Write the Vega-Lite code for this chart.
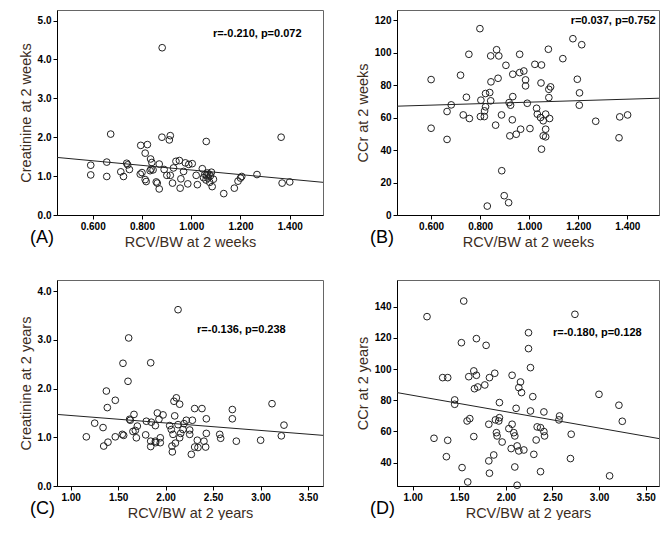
{
  "$schema": "https://vega.github.io/schema/vega-lite/v6.json",
  "background": "white",
  "padding": {"left": 17, "top": 9, "right": 5, "bottom": 0},
  "config": {
    "view": {"stroke": "#666666", "strokeWidth": 1},
    "font": "Liberation Sans",
    "axis": {
      "labelFont": "Liberation Sans", "labelFontWeight": "bold", "labelFontSize": 10, "labelColor": "#000000", "labelOverlap": false,
      "titleFont": "Liberation Sans", "titleFontWeight": "normal", "titleFontSize": 14.5, "titleColor": "#3c2d1e",
      "grid": false, "domainColor": "#000000", "tickColor": "#000000", "tickSize": 4, "labelPadding": 2, "titlePadding": 4
    }
  },
  "datasets": {
    "a": [
      {"x":0.592,"y":1.28},{"x":0.592,"y":1.03},{"x":0.657,"y":1.36},{"x":0.657,"y":0.99},{"x":0.673,"y":2.08},
      {"x":0.714,"y":1.11},{"x":0.725,"y":0.99},{"x":0.738,"y":1.33},{"x":0.742,"y":1.29},{"x":0.749,"y":1.17},
      {"x":0.793,"y":1.05},{"x":0.800,"y":1.09},{"x":0.795,"y":1.79},{"x":0.822,"y":1.81},{"x":0.813,"y":1.59},
      {"x":0.835,"y":1.44},{"x":0.840,"y":1.35},{"x":0.833,"y":1.14},{"x":0.837,"y":1.18},{"x":0.845,"y":1.16},
      {"x":0.813,"y":0.91},{"x":0.817,"y":0.86},{"x":0.858,"y":0.85},{"x":0.862,"y":0.82},{"x":0.870,"y":0.67},
      {"x":0.870,"y":1.31},{"x":0.881,"y":2.00},{"x":0.882,"y":4.30},{"x":0.890,"y":1.17},{"x":0.901,"y":1.02},
      {"x":0.915,"y":1.02},{"x":0.911,"y":1.93},{"x":0.915,"y":2.04},{"x":0.928,"y":1.21},{"x":0.924,"y":0.82},
      {"x":0.938,"y":1.38},{"x":0.952,"y":1.40},{"x":0.958,"y":0.93},{"x":0.955,"y":0.69},{"x":0.969,"y":1.12},
      {"x":0.976,"y":1.34},{"x":0.990,"y":1.30},{"x":1.004,"y":1.32},{"x":0.986,"y":0.80},{"x":1.020,"y":1.02},
      {"x":1.025,"y":0.78},{"x":1.045,"y":1.19},{"x":1.050,"y":0.96},{"x":1.055,"y":1.04},{"x":1.060,"y":0.90},
      {"x":1.062,"y":1.02},{"x":1.065,"y":1.08},{"x":1.068,"y":0.95},{"x":1.072,"y":1.05},{"x":1.075,"y":0.84},
      {"x":1.078,"y":1.01},{"x":1.082,"y":1.10},{"x":1.085,"y":0.73},{"x":1.061,"y":1.89},{"x":1.090,"y":0.92},
      {"x":1.132,"y":0.55},{"x":1.175,"y":0.69},{"x":1.190,"y":0.87},{"x":1.200,"y":0.95},{"x":1.205,"y":0.99},
      {"x":1.267,"y":1.04},{"x":1.365,"y":2.00},{"x":1.369,"y":0.82},{"x":1.400,"y":0.85}
    ],
    "aFit": [{"x":0.455,"y":1.48},{"x":1.535,"y":0.84}],
    "b": [
      {"x":0.799,"y":114.9},{"x":0.600,"y":83.5},{"x":0.600,"y":53.5},{"x":0.665,"y":63.8},{"x":0.665,"y":46.6},
      {"x":0.682,"y":67.9},{"x":0.720,"y":86.2},{"x":0.744,"y":72.6},{"x":0.731,"y":61.7},{"x":0.754,"y":99.1},
      {"x":0.756,"y":59.5},{"x":0.803,"y":70.8},{"x":0.801,"y":60.7},{"x":0.817,"y":60.7},{"x":0.818,"y":64.2},
      {"x":0.822,"y":66.7},{"x":0.822,"y":74.9},{"x":0.839,"y":75.5},{"x":0.843,"y":70.4},{"x":0.844,"y":82.1},
      {"x":0.843,"y":98.1},{"x":0.867,"y":101.9},{"x":0.876,"y":98.1},{"x":0.873,"y":84.3},{"x":0.863,"y":55.4},
      {"x":0.887,"y":61.7},{"x":0.888,"y":27.3},{"x":0.898,"y":11.9},{"x":0.916,"y":7.6},{"x":0.829,"y":5.5},
      {"x":0.905,"y":92.3},{"x":0.918,"y":69.3},{"x":0.924,"y":67.7},{"x":0.921,"y":48.8},{"x":0.933,"y":86.8},
      {"x":0.933,"y":73.0},{"x":0.931,"y":58.7},{"x":0.947,"y":49.8},{"x":0.961,"y":99.1},{"x":0.965,"y":52.9},
      {"x":0.961,"y":87.8},{"x":0.978,"y":88.8},{"x":0.985,"y":83.3},{"x":0.985,"y":79.6},{"x":0.992,"y":68.9},
      {"x":1.003,"y":53.3},{"x":1.023,"y":92.9},{"x":1.030,"y":65.8},{"x":1.033,"y":62.2},{"x":1.046,"y":60.1},
      {"x":1.050,"y":92.5},{"x":1.048,"y":81.4},{"x":1.057,"y":58.1},{"x":1.057,"y":48.8},{"x":1.050,"y":40.6},
      {"x":1.067,"y":62.2},{"x":1.067,"y":52.9},{"x":1.067,"y":48.2},{"x":1.078,"y":102.2},{"x":1.080,"y":72.4},
      {"x":1.080,"y":77.5},{"x":1.087,"y":79.0},{"x":1.083,"y":59.5},{"x":1.137,"y":96.4},{"x":1.178,"y":108.7},
      {"x":1.214,"y":105.0},{"x":1.196,"y":83.7},{"x":1.205,"y":75.3},{"x":1.204,"y":67.7},{"x":1.271,"y":57.8},
      {"x":1.369,"y":60.5},{"x":1.401,"y":61.7},{"x":1.366,"y":47.6}
    ],
    "bFit": [{"x":0.461,"y":67.1},{"x":1.529,"y":72.0}],
    "c": [
      {"x":2.131,"y":3.62},{"x":1.611,"y":3.04},{"x":1.551,"y":2.52},{"x":1.843,"y":2.53},{"x":1.604,"y":2.15},
      {"x":1.376,"y":1.95},{"x":1.470,"y":1.76},{"x":1.386,"y":1.61},{"x":1.165,"y":1.01},{"x":1.253,"y":1.29},
      {"x":1.341,"y":1.20},{"x":1.348,"y":0.82},{"x":1.393,"y":0.90},{"x":1.470,"y":1.01},{"x":1.544,"y":1.06},
      {"x":1.558,"y":1.04},{"x":1.621,"y":1.37},{"x":1.628,"y":1.35},{"x":1.667,"y":1.47},{"x":1.681,"y":1.14},
      {"x":1.656,"y":1.12},{"x":1.692,"y":0.99},{"x":1.702,"y":1.23},{"x":1.790,"y":1.05},{"x":1.797,"y":1.33},
      {"x":1.850,"y":1.31},{"x":1.843,"y":0.92},{"x":1.843,"y":0.81},{"x":1.892,"y":0.92},{"x":1.892,"y":1.24},
      {"x":1.913,"y":1.50},{"x":1.930,"y":1.37},{"x":1.944,"y":0.99},{"x":1.944,"y":0.89},{"x":1.895,"y":0.89},
      {"x":1.973,"y":1.46},{"x":2.043,"y":1.24},{"x":2.060,"y":1.16},{"x":2.078,"y":1.06},{"x":2.067,"y":0.82},
      {"x":2.071,"y":0.70},{"x":2.103,"y":0.88},{"x":2.096,"y":1.44},{"x":2.088,"y":1.74},{"x":2.113,"y":1.81},
      {"x":2.148,"y":1.68},{"x":2.131,"y":1.26},{"x":2.159,"y":1.08},{"x":2.148,"y":0.99},{"x":2.183,"y":1.16},
      {"x":2.194,"y":1.28},{"x":2.218,"y":1.35},{"x":2.254,"y":1.15},{"x":2.254,"y":1.06},{"x":2.282,"y":1.35},
      {"x":2.271,"y":0.65},{"x":2.306,"y":0.80},{"x":2.306,"y":1.59},{"x":2.334,"y":0.94},{"x":2.341,"y":0.79},
      {"x":2.383,"y":1.59},{"x":2.404,"y":0.92},{"x":2.429,"y":1.38},{"x":2.429,"y":1.08},{"x":2.422,"y":0.80},
      {"x":2.570,"y":1.06},{"x":2.580,"y":0.98},{"x":2.703,"y":1.57},{"x":2.703,"y":1.38},{"x":2.745,"y":0.92},
      {"x":3.001,"y":0.94},{"x":3.121,"y":1.69},{"x":3.219,"y":1.03},{"x":3.247,"y":1.25}
    ],
    "cFit": [{"x":0.856,"y":1.47},{"x":3.658,"y":1.04}],
    "d": [
      {"x":1.548,"y":143.6},{"x":1.154,"y":133.6},{"x":2.741,"y":135.1},{"x":2.243,"y":123.3},{"x":1.684,"y":119.5},
      {"x":1.523,"y":116.9},{"x":1.788,"y":115.2},{"x":2.243,"y":113.1},{"x":2.264,"y":100.9},{"x":1.322,"y":94.5},
      {"x":1.376,"y":94.5},{"x":1.602,"y":95.1},{"x":1.656,"y":98.8},{"x":1.684,"y":96.0},{"x":1.881,"y":97.3},
      {"x":1.824,"y":94.5},{"x":2.067,"y":96.0},{"x":2.157,"y":91.7},{"x":2.139,"y":88.1},{"x":2.168,"y":84.9},
      {"x":1.663,"y":87.4},{"x":1.699,"y":88.5},{"x":1.774,"y":89.8},{"x":2.289,"y":82.3},{"x":2.999,"y":83.8},
      {"x":1.451,"y":80.2},{"x":1.451,"y":77.4},{"x":1.931,"y":78.5},{"x":3.213,"y":76.8},{"x":2.110,"y":74.8},
      {"x":2.264,"y":73.1},{"x":2.408,"y":72.5},{"x":2.576,"y":69.9},{"x":2.569,"y":67.4},{"x":1.584,"y":66.7},
      {"x":1.613,"y":68.2},{"x":1.931,"y":68.8},{"x":1.924,"y":66.7},{"x":1.888,"y":67.4},{"x":3.249,"y":66.5},
      {"x":1.817,"y":64.6},{"x":2.067,"y":64.6},{"x":2.032,"y":61.8},{"x":2.336,"y":62.9},{"x":2.372,"y":62.4},
      {"x":2.408,"y":59.9},{"x":2.415,"y":57.1},{"x":2.085,"y":59.2},{"x":2.096,"y":57.1},{"x":1.899,"y":59.2},
      {"x":1.906,"y":57.1},{"x":1.960,"y":53.2},{"x":2.325,"y":54.5},{"x":2.701,"y":58.2},{"x":2.121,"y":50.7},
      {"x":2.057,"y":49.0},{"x":2.139,"y":47.5},{"x":2.193,"y":48.1},{"x":1.229,"y":55.6},{"x":1.376,"y":54.3},
      {"x":1.656,"y":56.7},{"x":2.300,"y":45.3},{"x":1.870,"y":44.9},{"x":1.362,"y":43.8},{"x":2.693,"y":42.6},
      {"x":1.817,"y":41.1},{"x":2.096,"y":37.2},{"x":1.530,"y":36.8},{"x":2.372,"y":34.2},{"x":1.824,"y":33.2},
      {"x":1.591,"y":27.6},{"x":2.121,"y":25.5},{"x":3.113,"y":31.5}
    ],
    "dFit": [{"x":0.832,"y":84.9},{"x":3.643,"y":55.4}]
  },
  "columns": 2,
  "spacing": {"row": 30, "column": 30},
  "concat": [
    {
      "width": 266, "height": 205,
      "title": {"text": "(A)", "orient": "bottom", "anchor": "start", "frame": "group", "fontSize": 18, "fontWeight": "normal", "font": "Liberation Sans", "color": "#000000", "dx": -27, "dy": -20, "offset": 0},
      "layer": [
        {"data": {"name": "a"}, "mark": {"type": "point", "shape": "circle", "filled": false, "size": 45, "stroke": "#222222", "strokeWidth": 1, "opacity": 1},
         "encoding": {
           "x": {"field": "x", "type": "quantitative", "scale": {"domain": [0.455, 1.535], "nice": false, "zero": false}, "axis": {"values": [0.6, 0.8, 1.0, 1.2, 1.4], "format": ".3f", "title": "RCV/BW at 2 weeks", "labelOverlap": false}},
           "y": {"field": "y", "type": "quantitative", "scale": {"domain": [0, 5.27], "nice": false}, "axis": {"values": [0, 1, 2, 3, 4, 5], "format": ".1f", "title": "Creatinine at 2 weeks", "labelOverlap": false}}}},
        {"data": {"name": "aFit"}, "mark": {"type": "line", "color": "#222222", "strokeWidth": 1, "clip": true},
         "encoding": {"x": {"field": "x", "type": "quantitative"}, "y": {"field": "y", "type": "quantitative"}}},
        {"data": {"values": [{}]}, "mark": {"type": "text", "text": "r=-0.210, p=0.072", "fontWeight": "bold", "fontSize": 11, "font": "Liberation Sans", "color": "#000000"},
         "encoding": {"x": {"datum": 1.268}, "y": {"datum": 4.66}}}
      ]
    },
    {
      "width": 262, "height": 205,
      "title": {"text": "(B)", "orient": "bottom", "anchor": "start", "frame": "group", "fontSize": 18, "fontWeight": "normal", "font": "Liberation Sans", "color": "#000000", "dx": -27, "dy": -20, "offset": 0},
      "layer": [
        {"data": {"name": "b"}, "mark": {"type": "point", "shape": "circle", "filled": false, "size": 45, "stroke": "#222222", "strokeWidth": 1, "opacity": 1},
         "encoding": {
           "x": {"field": "x", "type": "quantitative", "scale": {"domain": [0.461, 1.529], "nice": false, "zero": false}, "axis": {"values": [0.6, 0.8, 1.0, 1.2, 1.4], "format": ".3f", "title": "RCV/BW at 2 weeks", "labelOverlap": false}},
           "y": {"field": "y", "type": "quantitative", "scale": {"domain": [0, 126.4], "nice": false, "zero": false}, "axis": {"values": [0, 20, 40, 60, 80, 100, 120], "format": "d", "title": "CCr at 2 weeks", "labelOverlap": false, "tickCount": 7}}}},
        {"data": {"name": "bFit"}, "mark": {"type": "line", "color": "#222222", "strokeWidth": 1, "clip": true},
         "encoding": {"x": {"field": "x", "type": "quantitative"}, "y": {"field": "y", "type": "quantitative"}}},
        {"data": {"values": [{}]}, "mark": {"type": "text", "text": "r=0.037, p=0.752", "fontWeight": "bold", "fontSize": 11, "font": "Liberation Sans", "color": "#000000"},
         "encoding": {"x": {"datum": 1.342}, "y": {"datum": 119.6}}}
      ]
    },
    {
      "width": 266, "height": 206,
      "title": {"text": "(C)", "orient": "bottom", "anchor": "start", "frame": "group", "fontSize": 18, "fontWeight": "normal", "font": "Liberation Sans", "color": "#000000", "dx": -27, "dy": -20, "offset": 0},
      "layer": [
        {"data": {"name": "c"}, "mark": {"type": "point", "shape": "circle", "filled": false, "size": 45, "stroke": "#222222", "strokeWidth": 1, "opacity": 1},
         "encoding": {
           "x": {"field": "x", "type": "quantitative", "scale": {"domain": [0.856, 3.658], "nice": false, "zero": false}, "axis": {"values": [1, 1.5, 2, 2.5, 3, 3.5], "format": ".2f", "title": "RCV/BW at 2 years", "labelOverlap": false}},
           "y": {"field": "y", "type": "quantitative", "scale": {"domain": [0, 4.23], "nice": false}, "axis": {"values": [0, 1, 2, 3, 4], "format": ".1f", "title": "Creatinine at 2 years", "labelOverlap": false}}}},
        {"data": {"name": "cFit"}, "mark": {"type": "line", "color": "#222222", "strokeWidth": 1, "clip": true},
         "encoding": {"x": {"field": "x", "type": "quantitative"}, "y": {"field": "y", "type": "quantitative"}}},
        {"data": {"values": [{}]}, "mark": {"type": "text", "text": "r=-0.136, p=0.238", "fontWeight": "bold", "fontSize": 11, "font": "Liberation Sans", "color": "#000000"},
         "encoding": {"x": {"datum": 2.798}, "y": {"datum": 3.21}}}
      ]
    },
    {
      "width": 262, "height": 206,
      "title": {"text": "(D)", "orient": "bottom", "anchor": "start", "frame": "group", "fontSize": 18, "fontWeight": "normal", "font": "Liberation Sans", "color": "#000000", "dx": -27, "dy": -20, "offset": 0},
      "layer": [
        {"data": {"name": "d"}, "mark": {"type": "point", "shape": "circle", "filled": false, "size": 45, "stroke": "#222222", "strokeWidth": 1, "opacity": 1},
         "encoding": {
           "x": {"field": "x", "type": "quantitative", "scale": {"domain": [0.832, 3.643], "nice": false, "zero": false}, "axis": {"values": [1, 1.5, 2, 2.5, 3, 3.5], "format": ".2f", "title": "RCV/BW at 2 years", "labelOverlap": false}},
           "y": {"field": "y", "type": "quantitative", "scale": {"domain": [25, 157.1], "nice": false, "zero": false}, "axis": {"values": [40, 60, 80, 100, 120, 140], "format": "d", "title": "CCr at 2 years", "labelOverlap": false}}}},
        {"data": {"name": "dFit"}, "mark": {"type": "line", "color": "#222222", "strokeWidth": 1, "clip": true},
         "encoding": {"x": {"field": "x", "type": "quantitative"}, "y": {"field": "y", "type": "quantitative"}}},
        {"data": {"values": [{}]}, "mark": {"type": "text", "text": "r=-0.180, p=0.128", "fontWeight": "bold", "fontSize": 11, "font": "Liberation Sans", "color": "#000000"},
         "encoding": {"x": {"datum": 2.981}, "y": {"datum": 123.3}}}
      ]
    }
  ]
}
